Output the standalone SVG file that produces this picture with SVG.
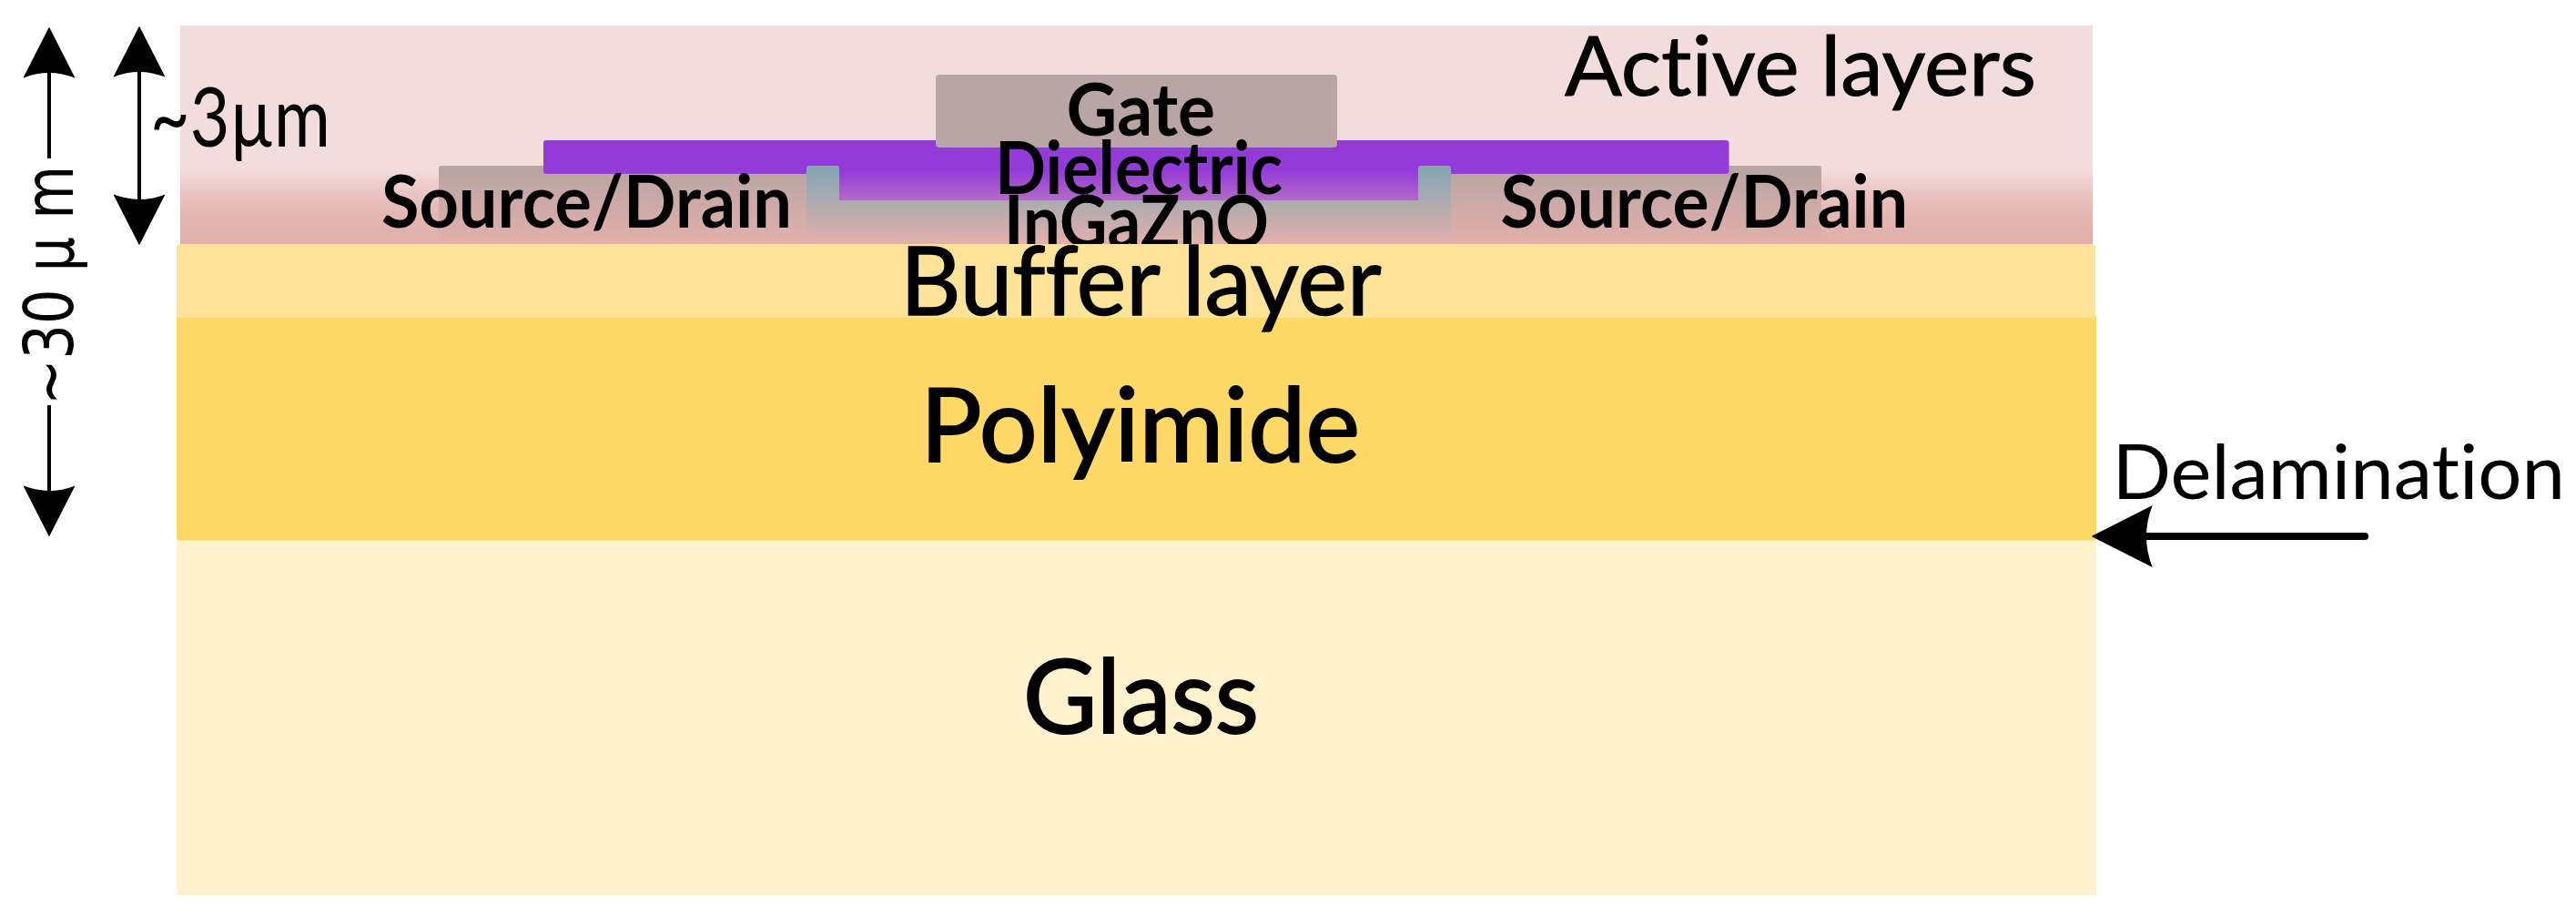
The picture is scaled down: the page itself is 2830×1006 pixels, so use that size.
<svg xmlns="http://www.w3.org/2000/svg" width="2830" height="1006" viewBox="0 0 2830 1006">
<style>
text{font-family:"Lato","Carlito","Open Sans",sans-serif;fill:#000;font-variant-ligatures:none}
.b{font-weight:700;font-size:80px}
.n{font-size:91px;stroke:#000;stroke-width:1}
.l{font-size:112px;stroke:#000;stroke-width:2}
.conn{fill:none;stroke:#000;stroke-width:4}
.del{stroke-width:8;stroke-linecap:round}
</style>
<defs>
<linearGradient id="bg" gradientUnits="userSpaceOnUse" x1="0" y1="187" x2="0" y2="268"><stop offset="0" stop-color="#f3dddc"/><stop offset="1" stop-color="#e2b0ab"/></linearGradient>
<linearGradient id="ov" gradientUnits="userSpaceOnUse" x1="0" y1="187" x2="0" y2="268"><stop offset="0" stop-color="#e2b0ab" stop-opacity="0"/><stop offset="1" stop-color="#e2b0ab" stop-opacity="1"/></linearGradient>
<marker id="h4" markerUnits="userSpaceOnUse" markerWidth="56" markerHeight="57" viewBox="0 0 100 100" refX="10" refY="50" orient="auto-start-reverse" preserveAspectRatio="none"><path d="M100 50L0 0Q20 50 0 100Z" fill="#000"/></marker>
<marker id="h8" markerUnits="userSpaceOnUse" markerWidth="67" markerHeight="68" viewBox="0 0 100 100" refX="10" refY="50" orient="auto-start-reverse" preserveAspectRatio="none"><path d="M100 50L0 0Q20 50 0 100Z" fill="#000"/></marker>
</defs>
<rect width="2830" height="1006" fill="#fff"/>
<g id="glass"><rect x="194" y="590" width="2109" height="393" fill="#fff2cc"/><text class="l" x="1124" y="805" textLength="259" lengthAdjust="spacingAndGlyphs">Glass</text></g>
<g id="active-layers"><rect x="198" y="28" width="2101" height="240" fill="url(#bg)"/><text class="n" x="1719" y="105" textLength="518" lengthAdjust="spacingAndGlyphs">Active layers</text></g>
<g id="source-drain-left"><rect x="482" y="182" width="410" height="81" rx="3" fill="#b9a5a3"/></g>
<g id="source-drain-right"><rect x="1590" y="182" width="411" height="81" rx="3" fill="#b9a5a3"/></g>
<g id="dielectric"><path d="M600 154H1896Q1899.500 154 1899.500 157V188Q1899.500 191 1896 191H1594V220H886V191H600Q597 191 597 188V157Q597 154 600 154Z" fill="#933bd9"/></g>
<g id="ingazno"><path d="M889 182H919Q922 182 922 185V220H1558V185Q1558 182 1561 182H1591Q1594 182 1594 185V263H886V185Q886 182 889 182Z" fill="#86a6b4"/></g>
<rect x="198" y="187" width="2101" height="81" fill="url(#ov)"/>
<g id="gate"><rect x="1028" y="82" width="441" height="80" rx="4" fill="#b9a5a3"/><text class="b" x="1171.500" y="149" textLength="163.500" lengthAdjust="spacingAndGlyphs">Gate</text></g>
<text class="b" x="1093" y="213" textLength="316" lengthAdjust="spacingAndGlyphs">Dielectric</text>
<text class="b" x="1103" y="272" textLength="291" lengthAdjust="spacingAndGlyphs">InGaZnO</text>
<text class="b" x="419" y="250" textLength="451" lengthAdjust="spacingAndGlyphs">Source/Drain</text>
<text class="b" x="1648.500" y="250" textLength="447.500" lengthAdjust="spacingAndGlyphs">Source/Drain</text>
<g id="polyimide"><rect x="194" y="345" width="2109" height="248.500" rx="3" fill="#ffd966"/><text class="l" x="1011" y="507" textLength="483" lengthAdjust="spacingAndGlyphs">Polyimide</text></g>
<g id="buffer"><rect x="194" y="268" width="2108" height="81" rx="4" fill="#fee499"/><text style="font-size:104px;stroke:#000;stroke-width:1.500" x="989" y="346" textLength="528.500" lengthAdjust="spacingAndGlyphs">Buffer layer</text></g>
<text x="2320.500" y="548" font-size="84" textLength="497.500" lengthAdjust="spacingAndGlyphs">Delamination</text>
<text x="165" y="161" font-size="92" textLength="198" lengthAdjust="spacingAndGlyphs">~3µm</text>
<text transform="translate(80 445) rotate(-90)" style="font-family:'DejaVu Sans',sans-serif" font-size="75" textLength="263" lengthAdjust="spacingAndGlyphs">~30 µ m</text>
<g id="connectors">
<path class="conn" d="M54 174V80" marker-end="url(#h4)"/>
<path class="conn" d="M54 445V539" marker-end="url(#h4)"/>
<path class="conn" d="M153 79V219" marker-start="url(#h4)" marker-end="url(#h4)"/>
<path class="conn del" d="M2598 589H2358" marker-end="url(#h8)"/>
</g>
</svg>
